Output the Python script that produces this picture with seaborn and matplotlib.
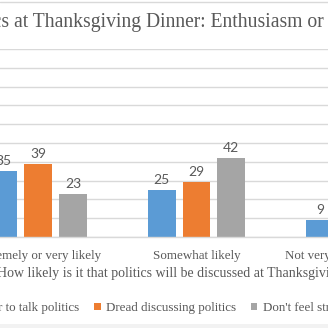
import matplotlib
matplotlib.use("Agg")
import matplotlib.pyplot as plt
import matplotlib.patches as mpatches
import matplotlib.lines as mlines
import seaborn as sns
import pandas as pd

# ---- data ----
categories = ["Extremely or very likely", "Somewhat likely", "Not very or not at all likely"]
series = ["Eager to talk politics", "Dread discussing politics", "Don't feel strongly either way"]
eager = [35, 25, 9]
dread = [39, 29, 17]
neutral = [23, 42, 72]
colors = ["#5B9BD5", "#ED7D31", "#A5A5A5"]
title = "Politics at Thanksgiving Dinner: Enthusiasm or Dread"
xlabel = "How likely is it that politics will be discussed at Thanksgiving?"

rows = []
for s, vals in zip(series, [eager, dread, neutral]):
    for c, v in zip(categories, vals):
        rows.append({"likelihood": c, "attitude": s, "pct": v})
df = pd.DataFrame(rows)

sns.set_theme(style="white")
W = H = 328
SERIF = "Liberation Serif"
TXT = "#595959"
fig = plt.figure(figsize=(W / 100, H / 100), dpi=100)
fig.patch.set_facecolor("white")
renderer = fig.canvas.get_renderer()


def fx(px):
    return px / W


def fy(py):
    return 1 - py / H


def text_w(s, size):
    t = fig.text(0, 0, s, fontsize=size, family=SERIF)
    w = t.get_window_extent(renderer).width
    t.remove()
    return w


def fit_size(s, target_px):
    return 10 * target_px / text_w(s, 10)


title_fs = fit_size("s at Thanksgiving Dinner: Enthusiasm or", 322)
xlabel_fs = fit_size("How likely is it that politics will be discussed at Thanksgi", 322)
tick_fs = fit_size("Somewhat likely", 88)
leg_fs = fit_size("Dread discussing politics", 131)

# axes geometry (pixels)
spacing = 158.5
c0 = 38.0
left_px = c0 - 0.5 * spacing
right_px = c0 + 2.5 * spacing
top_px, base_px = 49.0, 237.0
ax = fig.add_axes([fx(left_px), fy(base_px), (right_px - left_px) / W, (base_px - top_px) / H])

sns.barplot(data=df, x="likelihood", y="pct", hue="attitude", order=categories,
            hue_order=series, palette=colors, width=0.66, gap=0.2, ax=ax,
            saturation=1, edgecolor="none", legend=True)

ax.set_xlim(-0.5, 2.5)
ax.set_ylim(0, 100)
ax.set_yticks(range(0, 101, 10))
ax.yaxis.grid(True, color="#d9d9d9", linewidth=1.0)
ax.set_axisbelow(True)
ax.tick_params(axis="y", left=False, labelleft=False)
ax.tick_params(axis="x", bottom=False, pad=3.5, labelsize=tick_fs, labelcolor=TXT)
for lab in ax.get_xticklabels():
    lab.set_family(SERIF)
for sp in ["left", "right", "top"]:
    ax.spines[sp].set_visible(False)
ax.spines["bottom"].set_color("#d9d9d9")
ax.spines["bottom"].set_linewidth(1.0)
ax.set_xlabel("")
ax.set_ylabel("")
ax.patch.set_alpha(0)

for cont in ax.containers:
    ax.bar_label(cont, padding=3, fontsize=10, color=TXT, family="Lato")

# title placed so that the visible part starts where the reference shows it
pre_title = text_w("Politic", title_fs)
fig.text(fx(1 - pre_title), fy(22), title, ha="left", va="center", fontsize=title_fs,
         color=TXT, family=SERIF)
fig.text(fx(-3), fy(274), xlabel, ha="left", va="center", fontsize=xlabel_fs,
         color=TXT, family=SERIF)

# legend
sns.move_legend(ax, "center left", bbox_to_anchor=(fx(-40), fy(308)),
                bbox_transform=fig.transFigure, ncol=3, frameon=False, title=None,
                fontsize=leg_fs, handlelength=0.5, handleheight=0.5,
                handletextpad=0.45, columnspacing=1.1, borderaxespad=0, borderpad=0)
leg = ax.get_legend()
for t in leg.get_texts():
    t.set_color(TXT)
    t.set_family(SERIF)

# chart border remnants
fig.add_artist(mlines.Line2D([0, 1], [fy(2), fy(2)], transform=fig.transFigure,
                             color="#d9d9d9", linewidth=1.0))
fig.add_artist(mpatches.Rectangle((0, 0), 1, fy(323.5), transform=fig.transFigure,
                                  facecolor="#f2f2f2", edgecolor="none"))

fig.savefig("out.png", dpi=100)
